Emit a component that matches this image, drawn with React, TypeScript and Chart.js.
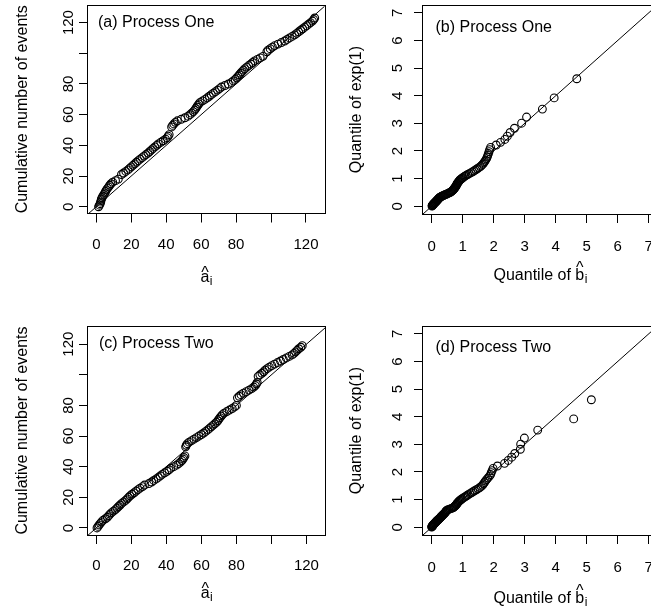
import React, { useEffect, useRef } from 'react';
import { Chart, registerables } from 'chart.js';

Chart.register(...registerables);

// ---------- data ----------
// Panel (a) Process One: cumulative number of events vs a-hat
const aCount = [0, 1, 2, 3, 4, 5, 6, 7, 8, 9, 10, 11, 12, 13, 14, 15, 16, 17, 18,
  21, 22, 23, 24, 25, 26, 27, 28, 29, 30, 31, 32, 33, 34, 35, 36, 37, 38, 39, 40, 41, 42, 43, 44, 45, 46, 47,
  52, 53, 54, 55, 56, 57, 58, 59, 60, 61, 62, 63, 64, 65, 66, 67, 68, 69, 70, 71, 72, 73, 74, 75, 76, 77, 78,
  79, 80, 81, 82, 83, 84, 85, 86, 87, 88, 89, 90, 91, 92, 93, 94, 95, 96, 97, 98,
  101, 102, 103, 104, 105, 106, 107, 108, 109, 110, 111, 112, 113, 114, 115, 116, 117, 118, 119, 120, 121, 122, 123];
const aHat = [1.3, 1.8, 2.2, 2.5, 2.7, 2.9, 3.3, 3.8, 4.4, 4.9, 5.3, 5.8, 6.4, 7.1, 7.7, 8.4, 9.4, 11.0, 12.6,
  14.4, 15.6, 16.9, 18.1, 19.0, 20.0, 21.0, 22.0, 23.0, 24.0, 25.1, 26.2, 27.3, 28.4, 29.6, 30.6, 31.6, 32.5, 33.5, 34.6, 35.5, 36.9, 38.3, 39.6, 40.6, 41.1, 41.7,
  43.1, 43.7, 44.4, 45.2, 46.4, 48.6, 50.7, 52.5, 53.6, 54.6, 55.5, 56.3, 56.9, 57.5, 58.1, 58.7, 59.4, 60.8, 62.2, 63.5, 64.7, 65.8, 67.0, 68.2, 69.4, 70.5, 71.6,
  73.6, 75.6, 77.3, 78.4, 79.5, 80.3, 81.1, 81.9, 82.6, 83.4, 84.2, 85.0, 86.1, 87.2, 88.4, 89.5, 90.6, 92.2, 93.8, 95.4,
  97.6, 98.3, 99.5, 100.8, 102.1, 104.0, 105.9, 107.8, 109.2, 110.6, 112.1, 113.5, 114.7, 115.8, 117.0, 118.1, 119.3, 120.4, 121.5, 122.6, 123.7, 124.4, 125.0];

// Panel (c) Process Two: cumulative number of events vs a-hat
const cCount = [0, 1, 2, 3, 4, 5, 6, 7, 8, 9, 10, 11, 12, 13, 14, 15, 16, 17, 18, 19, 20, 21, 22, 23, 24, 25, 26, 27,
  28, 29, 30, 31, 32, 33, 34, 35, 36, 37, 38, 39, 40, 41, 42, 43, 44, 45, 46, 47,
  53, 54, 55, 56, 57, 58, 59, 60, 61, 62, 63, 64, 65, 66, 67, 68, 69, 70, 71, 72, 73, 74, 75, 76, 77, 78, 79, 80,
  85, 86, 87, 88, 89, 90, 91, 92, 93, 94, 95,
  99, 100, 101, 102, 103, 104, 105, 106, 107, 108, 109, 110, 111, 112, 113, 114, 115, 116, 117, 118, 119];
const cHat = [0.4, 1.0, 1.6, 2.3, 3.0, 3.8, 5.2, 6.3, 7.1, 7.8, 8.7, 9.8, 10.9, 11.8, 12.7, 13.6, 14.5, 15.6, 16.7, 17.6, 18.4, 19.3, 20.4, 21.6, 22.7, 23.8, 25.0, 26.4,
  27.5, 30.0, 31.6, 32.8, 34.2, 35.4, 36.5, 37.6, 39.0, 40.4, 41.5, 42.6, 44.2, 45.8, 47.0, 48.0, 48.9, 49.5, 50.0, 50.6,
  51.0, 51.4, 52.0, 53.0, 54.4, 55.8, 57.2, 58.6, 60.0, 61.3, 62.5, 63.6, 64.6, 65.6, 66.6, 67.6, 68.6, 69.4, 70.0, 70.6, 71.3, 72.0, 73.0, 74.5, 76.0, 77.6, 79.0, 80.0,
  80.6, 81.6, 82.6, 84.0, 85.6, 87.2, 88.7, 89.9, 90.8, 91.4, 91.9,
  92.4, 93.4, 94.6, 95.6, 96.4, 97.5, 98.8, 100.2, 101.8, 103.5, 105.2, 106.8, 108.5, 110.2, 111.8, 112.9, 113.8, 114.7, 115.6, 116.8, 117.6];

// Theoretical exp(1) quantiles (y of panels b and d)
const expQuantiles = [0.01, 0.02, 0.03, 0.04, 0.051, 0.061, 0.072, 0.083, 0.093, 0.104,
  0.115, 0.127, 0.138, 0.149, 0.161, 0.173, 0.184, 0.196, 0.208, 0.221,
  0.233, 0.246, 0.258, 0.271, 0.284, 0.298, 0.311, 0.325, 0.338, 0.352,
  0.367, 0.381, 0.396, 0.41, 0.426, 0.441, 0.456, 0.472, 0.488, 0.504,
  0.521, 0.538, 0.555, 0.572, 0.59, 0.608, 0.626, 0.645, 0.664, 0.683,
  0.703, 0.723, 0.744, 0.765, 0.787, 0.809, 0.831, 0.854, 0.877, 0.902,
  0.926, 0.952, 0.978, 1.004, 1.032, 1.06, 1.089, 1.119, 1.149, 1.181,
  1.214, 1.248, 1.283, 1.319, 1.357, 1.396, 1.437, 1.48, 1.524, 1.571,
  1.619, 1.671, 1.725, 1.782, 1.843, 1.907, 1.976, 2.05, 2.13, 2.217,
  2.313, 2.418, 2.536, 2.669, 2.823, 3.006, 3.229, 3.517, 3.922, 4.615];

// Panel (b) Process One: sample quantiles of b-hat
const bQuant = [0.01, 0.02, 0.02, 0.03, 0.04, 0.05, 0.05, 0.06, 0.07, 0.08,
  0.09, 0.1, 0.11, 0.12, 0.13, 0.14, 0.15, 0.16, 0.17, 0.18,
  0.19, 0.2, 0.21, 0.22, 0.23, 0.24, 0.25, 0.27, 0.29, 0.31,
  0.33, 0.36, 0.39, 0.42, 0.45, 0.48, 0.51, 0.54, 0.57, 0.6,
  0.62, 0.64, 0.66, 0.68, 0.69, 0.71, 0.72, 0.73, 0.74, 0.75,
  0.77, 0.78, 0.79, 0.8, 0.81, 0.82, 0.83, 0.84, 0.86, 0.88,
  0.89, 0.91, 0.94, 0.97, 1.0, 1.04, 1.07, 1.11, 1.16, 1.21,
  1.27, 1.32, 1.37, 1.42, 1.47, 1.52, 1.57, 1.61, 1.65, 1.68,
  1.71, 1.74, 1.77, 1.79, 1.81, 1.83, 1.85, 1.87, 1.9, 2.08,
  2.22, 2.36, 2.44, 2.53, 2.67, 2.9, 3.06, 3.57, 3.95, 4.68];

// Panel (d) Process Two: sample quantiles of b-hat
const dQuant = [0.0, 0.01, 0.01, 0.02, 0.03, 0.03, 0.04, 0.05, 0.05, 0.06,
  0.07, 0.08, 0.09, 0.1, 0.11, 0.12, 0.13, 0.14, 0.15, 0.16,
  0.17, 0.18, 0.19, 0.21, 0.22, 0.23, 0.24, 0.26, 0.27, 0.28,
  0.29, 0.3, 0.32, 0.33, 0.34, 0.36, 0.37, 0.38, 0.4, 0.41,
  0.43, 0.44, 0.45, 0.46, 0.47, 0.49, 0.51, 0.55, 0.6, 0.64,
  0.68, 0.71, 0.73, 0.75, 0.77, 0.79, 0.8, 0.81, 0.83, 0.85,
  0.87, 0.89, 0.92, 0.95, 0.98, 1.02, 1.06, 1.1, 1.14, 1.18,
  1.23, 1.28, 1.33, 1.38, 1.44, 1.5, 1.55, 1.6, 1.64, 1.67,
  1.7, 1.73, 1.77, 1.81, 1.86, 1.9, 1.92, 1.95, 1.98, 2.12,
  2.35, 2.47, 2.58, 2.68, 2.86, 2.87, 2.99, 3.42, 4.58, 5.15];

const countTicks = [0, 20, 40, 60, 80, 100, 120];
const countTickLabels = ['0', '20', '40', '60', '80', '', '120'];
const quantTicks = [0, 1, 2, 3, 4, 5, 6, 7];
const quantTickLabels = ['0', '1', '2', '3', '4', '5', '6', '7'];

// reference line y = x (abline(0,1)), ends outside the axes
const countRefEnds = [-20, 150];
const quantRefEnds = [-1, 9];

const panelLabels = ['(a) Process One', '(b) Process One', '(c) Process Two', '(d) Process Two'];
const countTitle = 'Cumulative number of events';
const quantTitle = 'Quantile of exp(1)';

const FONT = '"Liberation Sans", Arial, Helvetica, sans-serif';

type PanelCfg = {
  left: number; top: number; W: number; H: number;
  L: number; R: number; T: number; B: number;
  xs: number[]; ys: number[];
  xMin: number; xMax: number; yMin: number; yMax: number;
  ticksV: number[]; tickLabels: string[];
  ref: number[];
  label: string;
  yTitle: string;
  xPrefix: string; xLetter: string;
  yLabOff: number; xLabOff: number; xTitleY: number; yTitleX: number;
  labDX: number; labDY: number;
};

const topH = 321;
const botH = 290;

const panels: PanelCfg[] = [
  {
    left: 0, top: 0, W: 335, H: topH, L: 88, R: 324.5, T: 4, B: 213.5,
    xs: aHat, ys: aCount, xMin: -4.75, xMax: 130.6, yMin: -4.4, yMax: 131.4,
    ticksV: countTicks, tickLabels: countTickLabels, ref: countRefEnds,
    label: panelLabels[0], yTitle: countTitle, xPrefix: '', xLetter: 'a',
    yLabOff: 19, xLabOff: 31, xTitleY: 282, yTitleX: 23, labDX: 10, labDY: 17,
  },
  {
    left: 335, top: 0, W: 335, H: topH, L: 88, R: 322.4, T: 4.5, B: 214,
    xs: bQuant, ys: expQuantiles, xMin: -0.28, xMax: 7.28, yMin: -0.28, yMax: 7.28,
    ticksV: quantTicks, tickLabels: quantTickLabels, ref: quantRefEnds,
    label: panelLabels[1], yTitle: quantTitle, xPrefix: 'Quantile of ', xLetter: 'b',
    yLabOff: 25, xLabOff: 33, xTitleY: 280, yTitleX: 22, labDX: 12.5, labDY: 22,
  },
  {
    left: 0, top: topH, W: 335, H: botH, L: 88, R: 325, T: 4, B: 214,
    xs: cHat, ys: cCount, xMin: -4.75, xMax: 130.6, yMin: -4.6, yMax: 131.8,
    ticksV: countTicks, tickLabels: countTickLabels, ref: countRefEnds,
    label: panelLabels[2], yTitle: countTitle, xPrefix: '', xLetter: 'a',
    yLabOff: 19, xLabOff: 31, xTitleY: 277, yTitleX: 23, labDX: 11, labDY: 17,
  },
  {
    left: 335, top: topH, W: 335, H: botH, L: 88, R: 322.4, T: 5, B: 214,
    xs: dQuant, ys: expQuantiles, xMin: -0.28, xMax: 7.28, yMin: -0.28, yMax: 7.28,
    ticksV: quantTicks, tickLabels: quantTickLabels, ref: quantRefEnds,
    label: panelLabels[3], yTitle: quantTitle, xPrefix: 'Quantile of ', xLetter: 'b',
    yLabOff: 25, xLabOff: 33, xTitleY: 282, yTitleX: 22, labDX: 12.5, labDY: 21,
  },
];

const TICK_PX = 15;
const LAB_PX = 16;

function drawHatLabel(ctx: CanvasRenderingContext2D, prefix: string, letter: string, cx: number, baseY: number) {
  const f = `${LAB_PX}px ${FONT}`;
  const fs = `${Math.round(LAB_PX * 0.72)}px ${FONT}`;
  ctx.font = f;
  const wp = ctx.measureText(prefix).width;
  const wl = ctx.measureText(letter).width;
  ctx.font = fs;
  const ws = ctx.measureText('i').width;
  const total = wp + wl + ws;
  const x0 = cx - total / 2;
  ctx.textAlign = 'left';
  ctx.textBaseline = 'alphabetic';
  ctx.font = f;
  ctx.fillText(prefix, x0, baseY);
  ctx.fillText(letter, x0 + wp, baseY);
  // circumflex accent above the letter
  ctx.textAlign = 'center';
  const lift = letter === 'b' ? 7.5 : 4;
  ctx.fillText('^', x0 + wp + wl / 2, baseY - lift);
  // subscript i
  ctx.textAlign = 'left';
  ctx.font = fs;
  ctx.fillText('i', x0 + wp + wl + 0.5, baseY + 3);
}

function makeOverlay(cfg: PanelCfg) {
  return {
    id: 'rstyle',
    afterDraw(chart: any) {
      const { ctx, chartArea: ca, scales } = chart;
      const x = scales.x;
      const y = scales.y;
      ctx.save();
      // box
      ctx.strokeStyle = '#000';
      ctx.lineWidth = 1;
      ctx.strokeRect(Math.round(ca.left) - 0.5, Math.round(ca.top) + 0.5, Math.round(ca.right - ca.left) + 1, Math.round(ca.bottom - ca.top));
      ctx.fillStyle = '#000';
      // x tick labels
      ctx.font = `${TICK_PX}px ${FONT}`;
      ctx.textAlign = 'center';
      ctx.textBaseline = 'middle';
      cfg.ticksV.forEach((v, i) => {
        const px = x.getPixelForValue(v);
        ctx.fillText(cfg.tickLabels[i], px, ca.bottom + cfg.xLabOff);
      });
      // y tick labels (rotated, R style las = 0)
      cfg.ticksV.forEach((v, i) => {
        const py = y.getPixelForValue(v);
        ctx.save();
        ctx.translate(ca.left - cfg.yLabOff, py);
        ctx.rotate(-Math.PI / 2);
        ctx.fillText(cfg.tickLabels[i], 0, 0);
        ctx.restore();
      });
      // y title
      ctx.font = `${LAB_PX}px ${FONT}`;
      ctx.save();
      ctx.translate(cfg.yTitleX, (ca.top + ca.bottom) / 2);
      ctx.rotate(-Math.PI / 2);
      ctx.fillText(cfg.yTitle, 0, 0);
      ctx.restore();
      // x title
      drawHatLabel(ctx, cfg.xPrefix, cfg.xLetter, (ca.left + ca.right) / 2, cfg.xTitleY);
      // panel label
      ctx.font = `${LAB_PX}px ${FONT}`;
      ctx.textAlign = 'left';
      ctx.textBaseline = 'middle';
      ctx.fillText(cfg.label, ca.left + cfg.labDX, ca.top + cfg.labDY);
      ctx.restore();
    },
  };
}

function Panel({ cfg }: { cfg: PanelCfg }) {
  const ref = useRef<HTMLCanvasElement | null>(null);
  useEffect(() => {
    if (!ref.current) return;
    const pts = cfg.xs.map((v, i) => ({ x: v, y: cfg.ys[i] }));
    const line = cfg.ref.map((v) => ({ x: v, y: v }));
    const axisCommon = {
      type: 'linear' as const,
      ticks: { display: false },
      border: { display: false },
      grid: { display: true, drawOnChartArea: false, drawTicks: true, tickLength: 9, color: '#000', lineWidth: 1 },
      afterBuildTicks: (s: any) => { s.ticks = cfg.ticksV.map((v) => ({ value: v })); },
    };
    const chart = new Chart(ref.current, {
      type: 'scatter',
      data: {
        datasets: [
          {
            data: pts,
            pointStyle: 'circle',
            pointRadius: 3.9,
            pointBorderWidth: 1.1,
            pointBorderColor: '#000',
            pointBackgroundColor: 'rgba(0,0,0,0)',
            borderColor: '#000',
            backgroundColor: 'rgba(0,0,0,0)',
          } as any,
          {
            type: 'line',
            data: line,
            showLine: true,
            borderColor: '#000',
            borderWidth: 1,
            pointRadius: 0,
            fill: false,
          } as any,
        ],
      },
      options: {
        responsive: false,
        animation: false,
        devicePixelRatio: 1,
        events: [],
        layout: { padding: { left: 0, top: cfg.T, right: cfg.W - cfg.R, bottom: 0 } },
        plugins: { legend: { display: false }, tooltip: { enabled: false } },
        scales: {
          x: {
            ...axisCommon, position: 'bottom', min: cfg.xMin, max: cfg.xMax,
            afterFit: (s: any) => { s.height = cfg.H - cfg.B; s.paddingLeft = 0; s.paddingRight = 0; s.paddingTop = 0; s.paddingBottom = 0; },
          },
          y: {
            ...axisCommon, position: 'left', min: cfg.yMin, max: cfg.yMax,
            afterFit: (s: any) => { s.width = cfg.L; s.paddingLeft = 0; s.paddingRight = 0; s.paddingTop = 0; s.paddingBottom = 0; },
          },
        },
      } as any,
      plugins: [makeOverlay(cfg)],
    });
    return () => chart.destroy();
  }, [cfg]);
  return (
    <canvas
      ref={ref}
      width={cfg.W}
      height={cfg.H}
      style={{ position: 'absolute', left: cfg.left, top: cfg.top, width: cfg.W, height: cfg.H }}
    />
  );
}

export default function App() {
  useEffect(() => {
    document.body.style.margin = '0';
  }, []);
  return (
    <div style={{ position: 'fixed', left: 0, top: 0, width: 651, height: 611, overflow: 'hidden', background: '#fff' }}>
      {panels.map((p, i) => (
        <Panel key={i} cfg={p} />
      ))}
    </div>
  );
}
